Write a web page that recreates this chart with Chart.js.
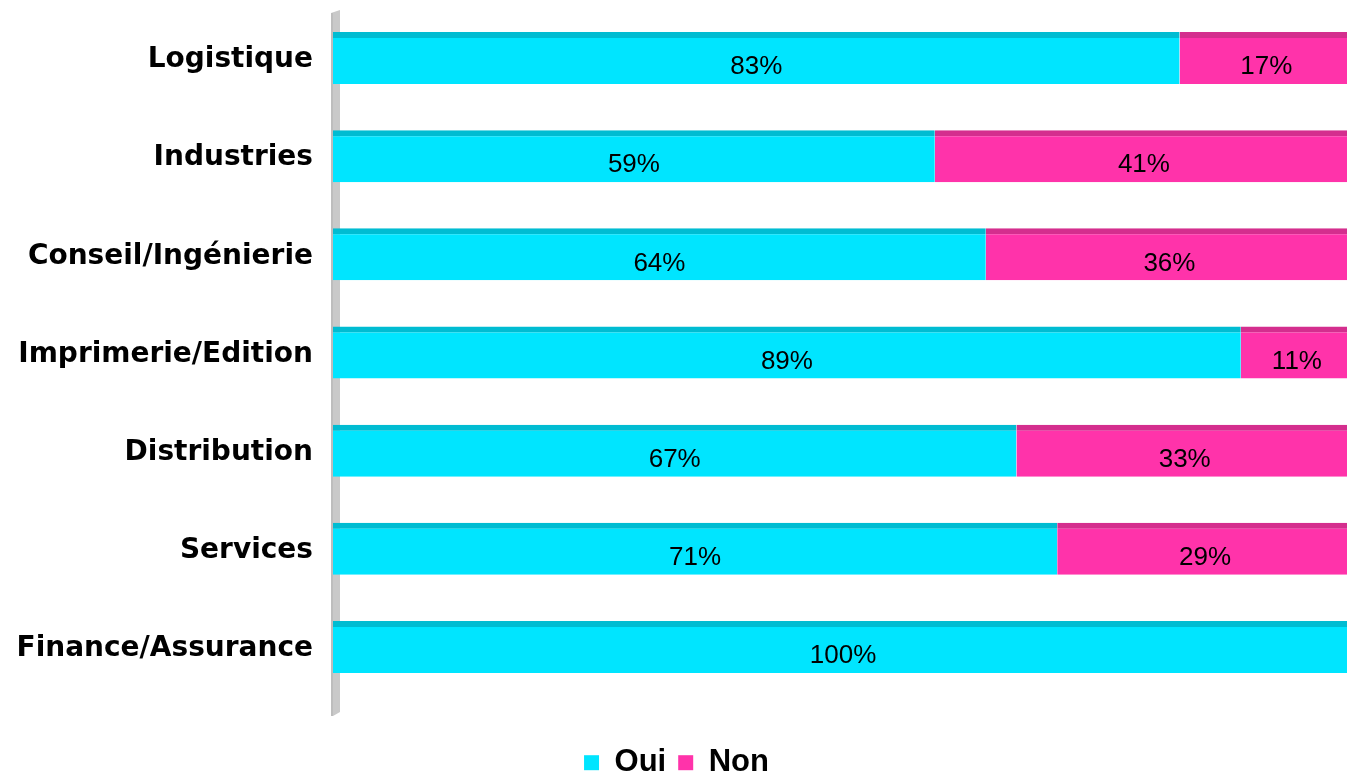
<!DOCTYPE html>
<html>
<head>
<meta charset="utf-8">
<script src="https://cdn.jsdelivr.net/npm/chart.js@4.4.0/dist/chart.umd.min.js"></script>
<style>
  html, body { margin: 0; padding: 0; background: #fff; overflow: hidden; }
  #wrap { width: 1360px; height: 779px; }
</style>
</head>
<body>
<div id="wrap"><canvas id="chart"></canvas></div>
<script>
// data
const categories = ['Logistique', 'Industries', 'Conseil/Ingénierie', 'Imprimerie/Edition', 'Distribution', 'Services', 'Finance/Assurance'];
const ouiValues = [83, 59, 64, 89, 67, 71, 100];
const nonValues = [17, 41, 36, 11, 33, 29, 0];
const seriesNames = ['Oui', 'Non'];

const ARIAL = 'Arial, "Liberation Sans", sans-serif';
const WIDE = '"DejaVu Sans", Arial, sans-serif';

// grey 3D wall on the left of the plot
const wallPlugin = {
  id: 'wall',
  beforeDatasetsDraw(chart) {
    const ctx = chart.ctx, a = chart.chartArea;
    const x = a.left - 2, w = 9, top = a.top + 1, bottom = a.bottom + 20;
    ctx.save();
    ctx.fillStyle = '#c9c9c9';
    ctx.beginPath();
    ctx.moveTo(x, top + 3);
    ctx.lineTo(x + w, top);
    ctx.lineTo(x + w, bottom - 4);
    ctx.lineTo(x + 2, bottom);
    ctx.lineTo(x, bottom);
    ctx.closePath();
    ctx.fill();
    ctx.fillStyle = '#bdbdbd';
    ctx.fillRect(x, top + 3, 2, bottom - top - 3);
    ctx.restore();
  }
};

// percent labels inside each segment
const labelPlugin = {
  id: 'segLabels',
  afterDatasetsDraw(chart) {
    const ctx = chart.ctx;
    ctx.save();
    ctx.font = '26px ' + ARIAL;
    ctx.fillStyle = '#000';
    ctx.textAlign = 'center';
    ctx.textBaseline = 'middle';
    chart.data.datasets.forEach((ds, i) => {
      chart.getDatasetMeta(i).data.forEach((bar, j) => {
        const v = ds.data[j];
        if (!v) return;
        const left = Math.min(bar.x, bar.base), right = Math.max(bar.x, bar.base);
        ctx.fillText(v + '%', (left + right) / 2, bar.y + 9);
      });
    });
    ctx.restore();
  }
};

new Chart(document.getElementById('chart'), {
  type: 'bar',
  data: {
    labels: categories,
    datasets: [
      {
        label: seriesNames[0],
        data: ouiValues,
        backgroundColor: '#00e5ff',
        borderColor: '#00bcd2',
        borderWidth: { top: 6, left: 0, right: 0, bottom: 0 },
        borderSkipped: false
      },
      {
        label: seriesNames[1],
        data: nonValues,
        backgroundColor: '#ff33aa',
        borderColor: '#d42e8e',
        borderWidth: { top: 6, left: 0, right: 0, bottom: 0 },
        borderSkipped: false
      }
    ]
  },
  options: {
    indexAxis: 'y',
    responsive: true,
    maintainAspectRatio: false,
    animation: false,
    layout: { padding: { top: 9, right: 7, bottom: 0, left: 0 } },
    datasets: { bar: { categoryPercentage: 1, barPercentage: 0.53 } },
    scales: {
      x: {
        stacked: true,
        min: 0,
        max: 100,
        display: false
      },
      y: {
        stacked: true,
        grid: { display: false },
        border: { display: false },
        ticks: {
          color: '#000',
          padding: 12,
          labelOffset: 2,
          font: { family: WIDE, size: 28, weight: 'bold' }
        },
        afterFit(axis) {
          axis.width = 333;
          axis.paddingTop = 0;
          axis.paddingBottom = 0;
        }
      }
    },
    plugins: {
      legend: {
        position: 'bottom',
        maxHeight: 83,
        title: { display: true, text: '', font: { size: 1 }, padding: { top: 38, bottom: 0 } },
        labels: {
          color: '#000',
          boxWidth: 15,
          boxHeight: 15,
          padding: 12,
          font: { family: ARIAL, size: 31, weight: 'bold' },
          generateLabels(chart) {
            const items = Chart.defaults.plugins.legend.labels.generateLabels(chart);
            items.forEach(it => { it.lineWidth = 0; it.strokeStyle = it.fillStyle; });
            return items;
          }
        }
      },
      tooltip: { enabled: false }
    }
  },
  plugins: [wallPlugin, labelPlugin]
});
</script>
</body>
</html>
